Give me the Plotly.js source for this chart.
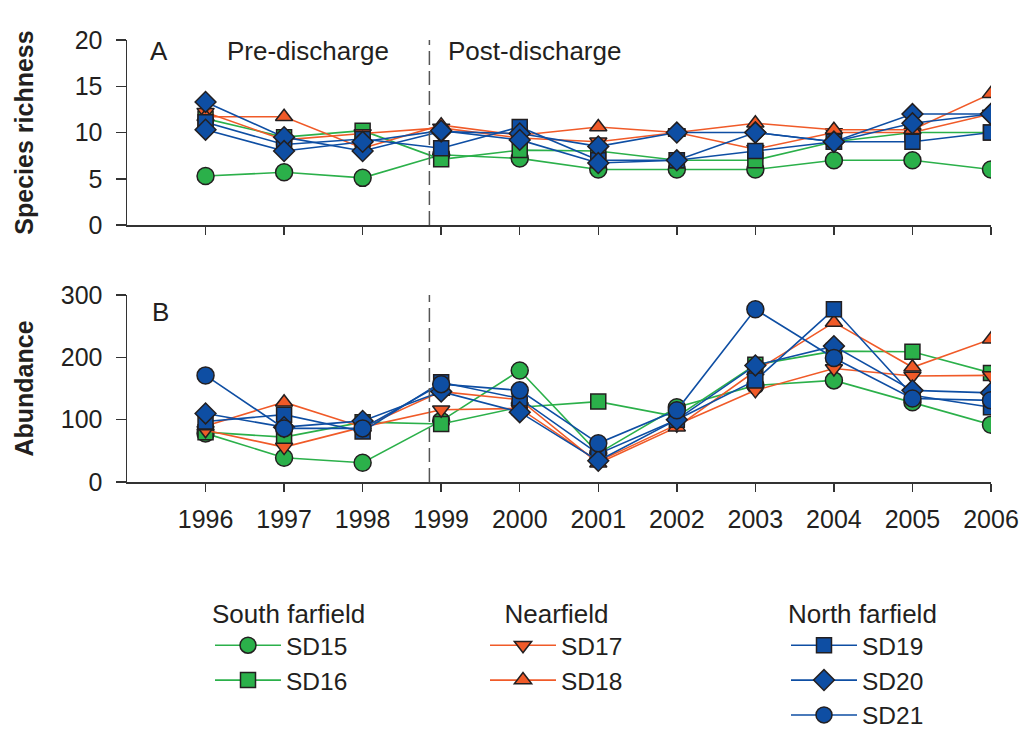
<!DOCTYPE html>
<html>
<head>
<meta charset="utf-8">
<script src="https://cdn.plot.ly/plotly-3.0.1.min.js"></script>
<style>html,body{margin:0;padding:0;background:#fff}#chart{width:1021px;height:732px}</style>
</head>
<body>
<div id="chart"></div>
<script>
const years = [1996,1997,1998,1999,2000,2001,2002,2003,2004,2005,2006];
const stations = ["SD15","SD16","SD17","SD18","SD19","SD20","SD21"];
const groups = ["South farfield","Nearfield","North farfield"];

// Panel A: species richness
const rich_SD15 = [5.3, 5.7, 5.1, 7.6, 7.2, 6, 6, 6, 7, 7, 6];
const rich_SD16 = [11.5, 9.5, 10.2, 7.1, 8.1, 8, 7, 7, 9, 10, 10];
const rich_SD17 = [12.2, 9.2, 9.9, 10.5, 9.4, 9.0, 10, 8.2, 10, 10, 12];
const rich_SD18 = [11.7, 11.7, 8.3, 10.8, 9.7, 10.6, 10, 11, 10.3, 10.3, 14.2];
const rich_SD19 = [11.1, 8.7, 9.3, 8.3, 10.6, 7, 7, 8, 9, 9, 10];
const rich_SD20 = [13.3, 9.5, 8.0, 10.1, 9.9, 8.5, 10, 10, 9, 12, 12];
const rich_SD21 = [10.3, 8.0, 9.0, 10.2, 9.2, 6.7, 7, 10, 9, 11, 12];

// Panel B: abundance
const abun_SD15 = [78, 39, 31, 98, 179, 46, 120, 155, 163, 128, 92];
const abun_SD16 = [80, 72, 96, 93, 120, 129, 105, 188, 210, 209, 175];
const abun_SD17 = [83, 56, 88, 116, 118, 33, 92, 147, 182, 170, 171];
const abun_SD18 = [90, 128, 88, 145, 132, 30, 88, 178, 256, 184, 229];
const abun_SD19 = [97, 108, 81, 160, 134, 45, 100, 163, 277, 139, 120];
const abun_SD20 = [110, 88, 98, 145, 112, 34, 100, 187, 218, 147, 143];
const abun_SD21 = [171, 86, 86, 157, 147, 62, 115, 277, 199, 134, 131];

const dischargeYear = 1998.85;

const GREEN = "#2bb04a", RED = "#f05a28", BLUE = "#0e4ea3", EDGE = "#231f20";
const richData = [rich_SD15, rich_SD16, rich_SD17, rich_SD18, rich_SD19, rich_SD20, rich_SD21];
const abunData = [abun_SD15, abun_SD16, abun_SD17, abun_SD18, abun_SD19, abun_SD20, abun_SD21];
const colors = [GREEN, GREEN, RED, RED, BLUE, BLUE, BLUE];
const symbols = ["circle","square","triangle-down","triangle-up","square","diamond","circle"];
const symbolsA = ["circle","square","triangle-down","triangle-up","square","diamond","diamond"];
const sizes = {"circle":17,"square":15,"triangle-down":15,"triangle-up":15,"diamond":16};
const legendOf = ["legend","legend","legend2","legend2","legend3","legend3","legend3"];

const traces = [];
stations.forEach((s,i)=>{
  traces.push({
    x: years, y: richData[i], xaxis:"x", yaxis:"y", name:s, legendgroup:s,
    showlegend:false, mode:"lines+markers", type:"scatter",
    line:{color:colors[i], width:1.6},
    marker:{symbol:symbolsA[i], size:sizes[symbolsA[i]], color:colors[i], line:{color:EDGE, width:1.5}}
  });
});
stations.forEach((s,i)=>{
  traces.push({
    x: years, y: abunData[i], xaxis:"x2", yaxis:"y2", name:s, legendgroup:s,
    legend: legendOf[i], showlegend:true, mode:"lines+markers", type:"scatter",
    line:{color:colors[i], width:1.6},
    marker:{symbol:symbols[i], size:sizes[symbols[i]], color:colors[i], line:{color:EDGE, width:1.5}}
  });
});

const FONT = "Liberation Sans, Arial, sans-serif";
const TXT = {family:FONT, size:26, color:EDGE};
const LEGTXT = {family:FONT, size:24.5, color:EDGE};
const axisCommon = {
  showline:true, linecolor:"#333", linewidth:1.5, ticks:"outside", tickwidth:1.5, tickcolor:"#333",
  showgrid:false, zeroline:false, tickfont:{family:FONT, size:25, color:EDGE}
};
const legY = -(589-482)/442;
const legCommon = {
  orientation:"v", yanchor:"top", xanchor:"left", bgcolor:"rgba(0,0,0,0)",
  font:LEGTXT, tracegroupgap:0, itemwidth:66, y:legY
};
const plotW = 1021-127-30;

const layout = {
  width:1021, height:732,
  margin:{l:127, r:30, t:40, b:250, autoexpand:false},
  paper_bgcolor:"#fff", plot_bgcolor:"#fff",
  font:{family:FONT, color:EDGE},
  xaxis: Object.assign({}, axisCommon, {range:[1995, 2006], domain:[0,1], anchor:"y", tickvals:years, showticklabels:false, ticklen:8}),
  yaxis: Object.assign({}, axisCommon, {range:[0,20], domain:[0.5814,1], anchor:"x", tickvals:[0,5,10,15,20], ticklen:10, ticklabelstandoff:8,
    title:{text:"<b>Species richness</b>", font:{family:FONT, size:25, color:EDGE}, standoff:34}}),
  xaxis2: Object.assign({}, axisCommon, {range:[1995, 2006], domain:[0,1], anchor:"y2", tickvals:years, ticklen:8, ticklabelstandoff:6}),
  yaxis2: Object.assign({}, axisCommon, {range:[0,300], domain:[0,0.4231], anchor:"x2", tickvals:[0,100,200,300], ticklen:10, ticklabelstandoff:8,
    title:{text:"<b>Abundance</b>", font:{family:FONT, size:25, color:EDGE}, standoff:20}}),
  shapes:[
    {type:"line", xref:"x", yref:"y", x0:dischargeYear, x1:dischargeYear, y0:0, y1:20, line:{color:"#555", width:1.5, dash:"14px,6px"}},
    {type:"line", xref:"x2", yref:"y2", x0:dischargeYear, x1:dischargeYear, y0:0, y1:300, line:{color:"#555", width:1.5, dash:"14px,6px"}}
  ],
  annotations:[
    {text:"A", xref:"x", yref:"y", x:1995.41, y:18.76, showarrow:false, font:TXT},
    {text:"Pre-discharge", xref:"x", yref:"y", x:1997.31, y:18.76, showarrow:false, font:TXT},
    {text:"Post-discharge", xref:"x", yref:"y", x:2000.19, y:18.76, showarrow:false, font:TXT},
    {text:"B", xref:"x2", yref:"y2", x:1995.43, y:273, showarrow:false, font:TXT}
  ],
  legend: Object.assign({}, legCommon, {x:(210-127)/plotW, title:{text:groups[0], side:"top", font:TXT}}),
  legend2: Object.assign({}, legCommon, {x:(485-127)/plotW, title:{text:groups[1], side:"top center", font:TXT}}),
  legend3: Object.assign({}, legCommon, {x:(786-127)/plotW, title:{text:groups[2], side:"top", font:TXT}})
};

Plotly.newPlot("chart", traces, layout, {displayModeBar:false, staticPlot:true});
</script>
</body>
</html>
